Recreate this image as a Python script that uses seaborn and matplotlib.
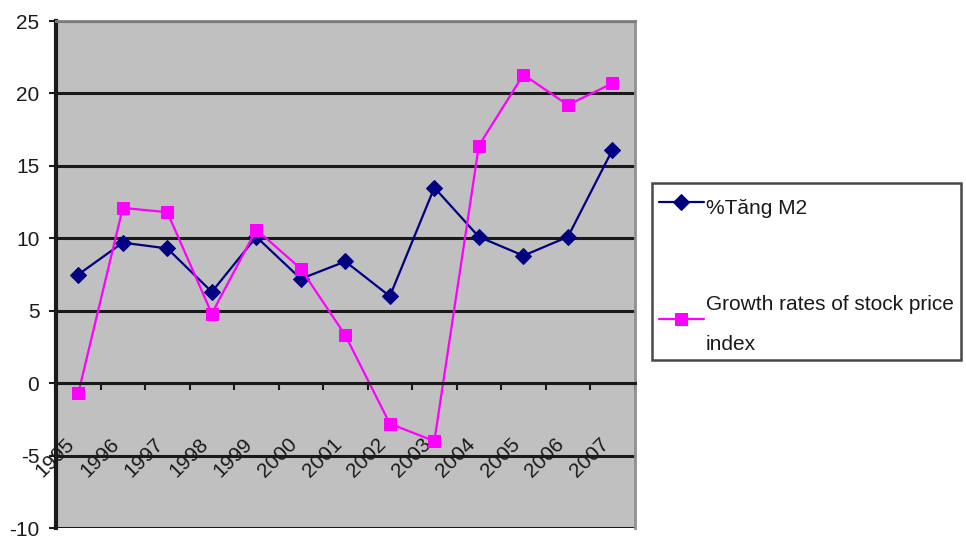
import matplotlib
matplotlib.use("Agg")
import matplotlib.pyplot as plt
import seaborn as sns
import pandas as pd
import numpy as np
from matplotlib.ticker import FixedLocator, MultipleLocator

years = ["1995", "1996", "1997", "1998", "1999", "2000", "2001",
         "2002", "2003", "2004", "2005", "2006", "2007"]
m2_growth = [7.5, 9.7, 9.3, 6.3, 10.1, 7.2, 8.4, 6.0, 13.5, 10.1, 8.8, 10.1, 16.1]
stock_growth = [-0.7, 12.1, 11.8, 4.8, 10.6, 7.9, 3.3, -2.8, -4.0, 16.4, 21.3, 19.2, 20.7]
series_names = ["%Tăng M2", "Growth rates of stock price\nindex"]

sns.set_theme(style="white")
plt.rcParams["font.family"] = ["Liberation Sans", "DejaVu Sans"]
plt.rcParams["axes.unicode_minus"] = False

pos = np.arange(len(years))
df = pd.DataFrame({
    "pos": np.concatenate([pos, pos]),
    "value": m2_growth + stock_growth,
    "series": [series_names[0]] * len(years) + [series_names[1]] * len(years),
})

fig = plt.figure(figsize=(9.66, 5.39), dpi=100)
ax = fig.add_axes([0.058, 0.0204, 0.599, 0.9406])
ax.set_facecolor("#C0C0C0")

sns.lineplot(data=df[df.series == series_names[0]], x="pos", y="value", ax=ax,
             color="#000080", marker="D", markersize=8, linewidth=1.6,
             markeredgecolor="#000080", label=series_names[0])
sns.lineplot(data=df[df.series == series_names[1]], x="pos", y="value", ax=ax,
             color="#FF00FF", marker="s", markersize=9, linewidth=1.6,
             markeredgecolor="#FF00FF", label=series_names[1])

ax.set_xlim(-0.5, len(years) - 0.5)
ax.set_ylim(-10, 25)
ax.yaxis.set_major_locator(MultipleLocator(5))
ax.grid(axis="y", color="#1a1a1a", linewidth=2.2)
ax.set_axisbelow(True)

# category axis crosses at zero, ticks between categories
ax.spines["bottom"].set_position(("data", 0))
ax.spines["bottom"].set_color("#1a1a1a")
ax.spines["bottom"].set_linewidth(2.2)
ax.spines["left"].set_color("#1a1a1a")
ax.spines["left"].set_linewidth(3)
ax.spines["top"].set_color("#808080")
ax.spines["top"].set_linewidth(2)
ax.spines["right"].set_color("#909090")
ax.spines["right"].set_linewidth(2)

ax.xaxis.set_major_locator(FixedLocator(pos))
ax.xaxis.set_minor_locator(FixedLocator(np.arange(len(years) + 1) - 0.5))
ax.set_xticklabels(years, rotation=45, ha="right", va="top", fontsize=15, color="#1a1a1a")
ax.tick_params(axis="x", which="major", length=0, pad=37)
ax.tick_params(axis="x", which="minor", bottom=True, length=5, width=1.5, color="#1a1a1a", direction="out")
ax.tick_params(axis="y", left=True, length=5, width=1.5, color="#1a1a1a", labelsize=15, labelcolor="#1a1a1a", pad=7)
ax.set_xlabel("")
ax.set_ylabel("")

handles, labels = ax.get_legend_handles_labels()
ax.get_legend().remove()
leg = fig.legend(handles, labels, loc="upper left", bbox_to_anchor=(0.675, 0.6605),
                 frameon=True, fancybox=False, fontsize=15, handlelength=2.15,
                 handleheight=2.3, labelspacing=3.3, borderpad=0.32,
                 handletextpad=0.12, borderaxespad=0)
leg.get_frame().set_edgecolor("#1a1a1a")
leg.get_frame().set_linewidth(1.8)
for t in leg.get_texts():
    t.set_color("#1a1a1a")
    t.set_linespacing(2.4)

fig.savefig("out.png", dpi=100)
